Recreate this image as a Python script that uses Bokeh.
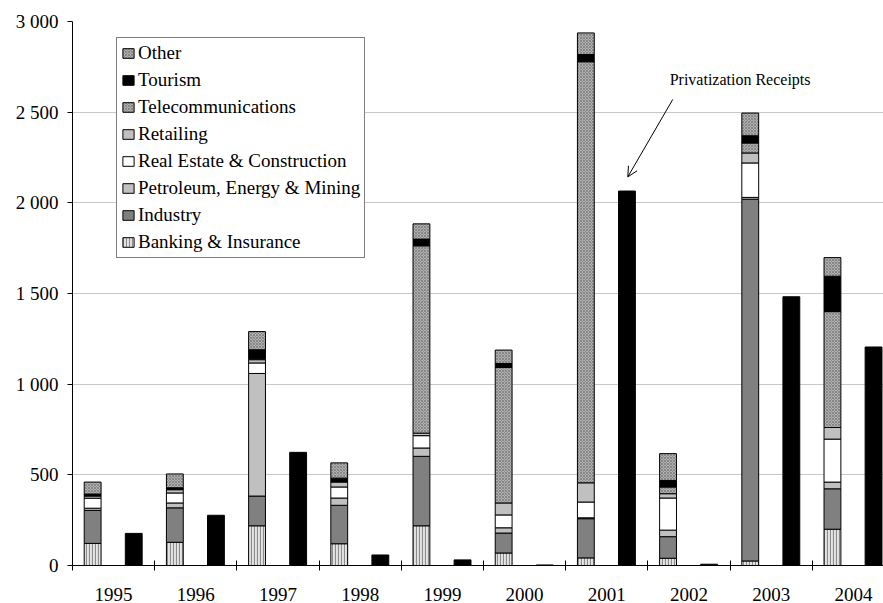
from bokeh.plotting import figure
from bokeh.models import (Range1d, FixedTicker, ColumnDataSource, Legend, LegendItem,
                          Label, Arrow, OpenHead)
from bokeh.embed import file_html
from bokeh.resources import INLINE

# ---------------- data ----------------
years = ["1995", "1996", "1997", "1998", "1999", "2000", "2001", "2002", "2003", "2004"]
banking = [122, 128, 219, 120, 219, 69, 42, 40, 25, 200]
industry = [182, 190, 164, 212, 383, 110, 216, 119, 1995, 223]
petroleum = [12, 27, 676, 40, 46, 29, 5, 36, 10, 37]
real_estate = [55, 55, 58, 61, 68, 71, 87, 177, 190, 237]
retailing = [12, 18, 18, 27, 14, 66, 106, 24, 55, 64]
telecom = [3, 3, 5, 4, 1033, 747, 2322, 37, 55, 639]
tourism = [8, 8, 50, 18, 37, 22, 40, 36, 40, 195]
other = [66, 76, 100, 84, 84, 74, 119, 148, 125, 103]
privatization = [177, 277, 624, 58, 31, 3, 2065, 7, 1482, 1205]

series_names = ["Banking & Insurance", "Industry", "Petroleum, Energy & Mining",
                "Real Estate & Construction", "Retailing", "Telecommunications",
                "Tourism", "Other"]
series_values = [banking, industry, petroleum, real_estate, retailing, telecom, tourism, other]

y_ticks = [0, 500, 1000, 1500, 2000, 2500, 3000]
y_tick_labels = ["0", "500", "1 000", "1 500", "2 000", "2 500", "3 000"]

annotation_text = "Privatization Receipts"

# ---------------- styles ----------------
FONT = '"Liberation Serif"'
styles = [
    dict(fill_color="#e4e4e4", hatch_pattern="vertical_line", hatch_color="#8c8c8c", hatch_scale=3, hatch_weight=1.2),
    dict(fill_color="#808080"),
    dict(fill_color="#c0c0c0"),
    dict(fill_color="white"),
    dict(fill_color="#c0c0c0"),
    dict(fill_color="#b0b0b0", hatch_pattern="diagonal_cross", hatch_color="#7c7c7c", hatch_scale=3, hatch_weight=0.8),
    dict(fill_color="black"),
    dict(fill_color="#b0b0b0", hatch_pattern="diagonal_cross", hatch_color="#7c7c7c", hatch_scale=3, hatch_weight=0.8),
]

n = len(years)
stack_off = -0.255
priv_off = 0.245
bar_w = 0.205

data = {"xs": [i + 0.5 + stack_off for i in range(n)],
        "xp": [i + 0.5 + priv_off for i in range(n)],
        "priv": privatization}
cum = [0] * n
for k, vals in enumerate(series_values):
    data[f"b{k}"] = list(cum)
    cum = [c + v for c, v in zip(cum, vals)]
    data[f"t{k}"] = list(cum)
source = ColumnDataSource(data)

p = figure(width=883, height=603, output_backend="svg", toolbar_location=None,
           x_range=Range1d(0, 9.866), y_range=Range1d(0, 3000),
           min_border_left=72, min_border_right=0, min_border_top=21, min_border_bottom=36,
           background_fill_color="white", border_fill_color="white")
p.outline_line_color = None

renderers = []
for k, name in enumerate(series_names):
    r = p.vbar(x="xs", bottom=f"b{k}", top=f"t{k}", width=bar_w, source=source,
               line_color="black", line_width=1, **styles[k])
    renderers.append(r)

p.vbar(x="xp", bottom=0, top="priv", width=bar_w, source=source,
       fill_color="black", line_color="black", line_width=1)

# legend (reverse order)
items = [LegendItem(label=series_names[k], renderers=[renderers[k]]) for k in reversed(range(len(series_names)))]
legend = Legend(items=items, location=(44, 307))
legend.label_text_font = FONT
legend.label_text_font_size = "19px"
legend.label_text_color = "black"
legend.glyph_width = 14
legend.glyph_height = 12
legend.label_height = 22
legend.label_standoff = 3
legend.spacing = 5
legend.padding = 4
legend.margin = 0
legend.border_line_color = "black"
legend.border_line_width = 1
legend.background_fill_color = "white"
legend.background_fill_alpha = 1
p.add_layout(legend, "center")

# axes
p.yaxis.ticker = FixedTicker(ticks=y_ticks)
p.yaxis.major_label_overrides = {t: l for t, l in zip(y_ticks, y_tick_labels)}
p.yaxis.major_tick_out = 5
p.yaxis.major_tick_in = 0
p.yaxis.minor_tick_line_color = None
p.yaxis.major_label_standoff = 9
p.yaxis.axis_line_color = "black"
p.yaxis.major_tick_line_color = "black"

xt = [i + 0.5 for i in range(n)]
p.xaxis.ticker = FixedTicker(ticks=xt, minor_ticks=list(range(n + 1)))
p.xaxis.major_label_overrides = {t: l for t, l in zip(xt, years)}
p.xaxis.major_tick_in = 0
p.xaxis.major_tick_out = 0
p.xaxis.minor_tick_in = 5
p.xaxis.minor_tick_out = 5
p.xaxis.minor_tick_line_color = "black"
p.xaxis.major_label_standoff = 17
p.xaxis.axis_line_color = "black"

for ax in (p.xaxis, p.yaxis):
    ax.major_label_text_font = FONT
    ax.major_label_text_font_size = "19px"
    ax.major_label_text_color = "black"

p.xgrid.grid_line_color = None
p.ygrid.ticker = FixedTicker(ticks=y_ticks)
p.ygrid.grid_line_color = "#c8c8c8"
p.ygrid.grid_line_width = 1

# annotation
i2001 = years.index("2001")
bx = data["xp"][i2001]
by = privatization[i2001]
p.add_layout(Arrow(end=OpenHead(size=10, line_color="black", line_width=1),
                   x_start=bx + 0.557, y_start=by + 505, x_end=bx + 0.01, y_end=by + 78,
                   line_color="black", line_width=1))
p.add_layout(Label(x=bx + 0.52, y=by + 615, text=annotation_text, text_font=FONT,
                   text_font_size="16px", text_baseline="middle", text_color="black"))

open("out.html", "w").write(file_html(p, INLINE))
